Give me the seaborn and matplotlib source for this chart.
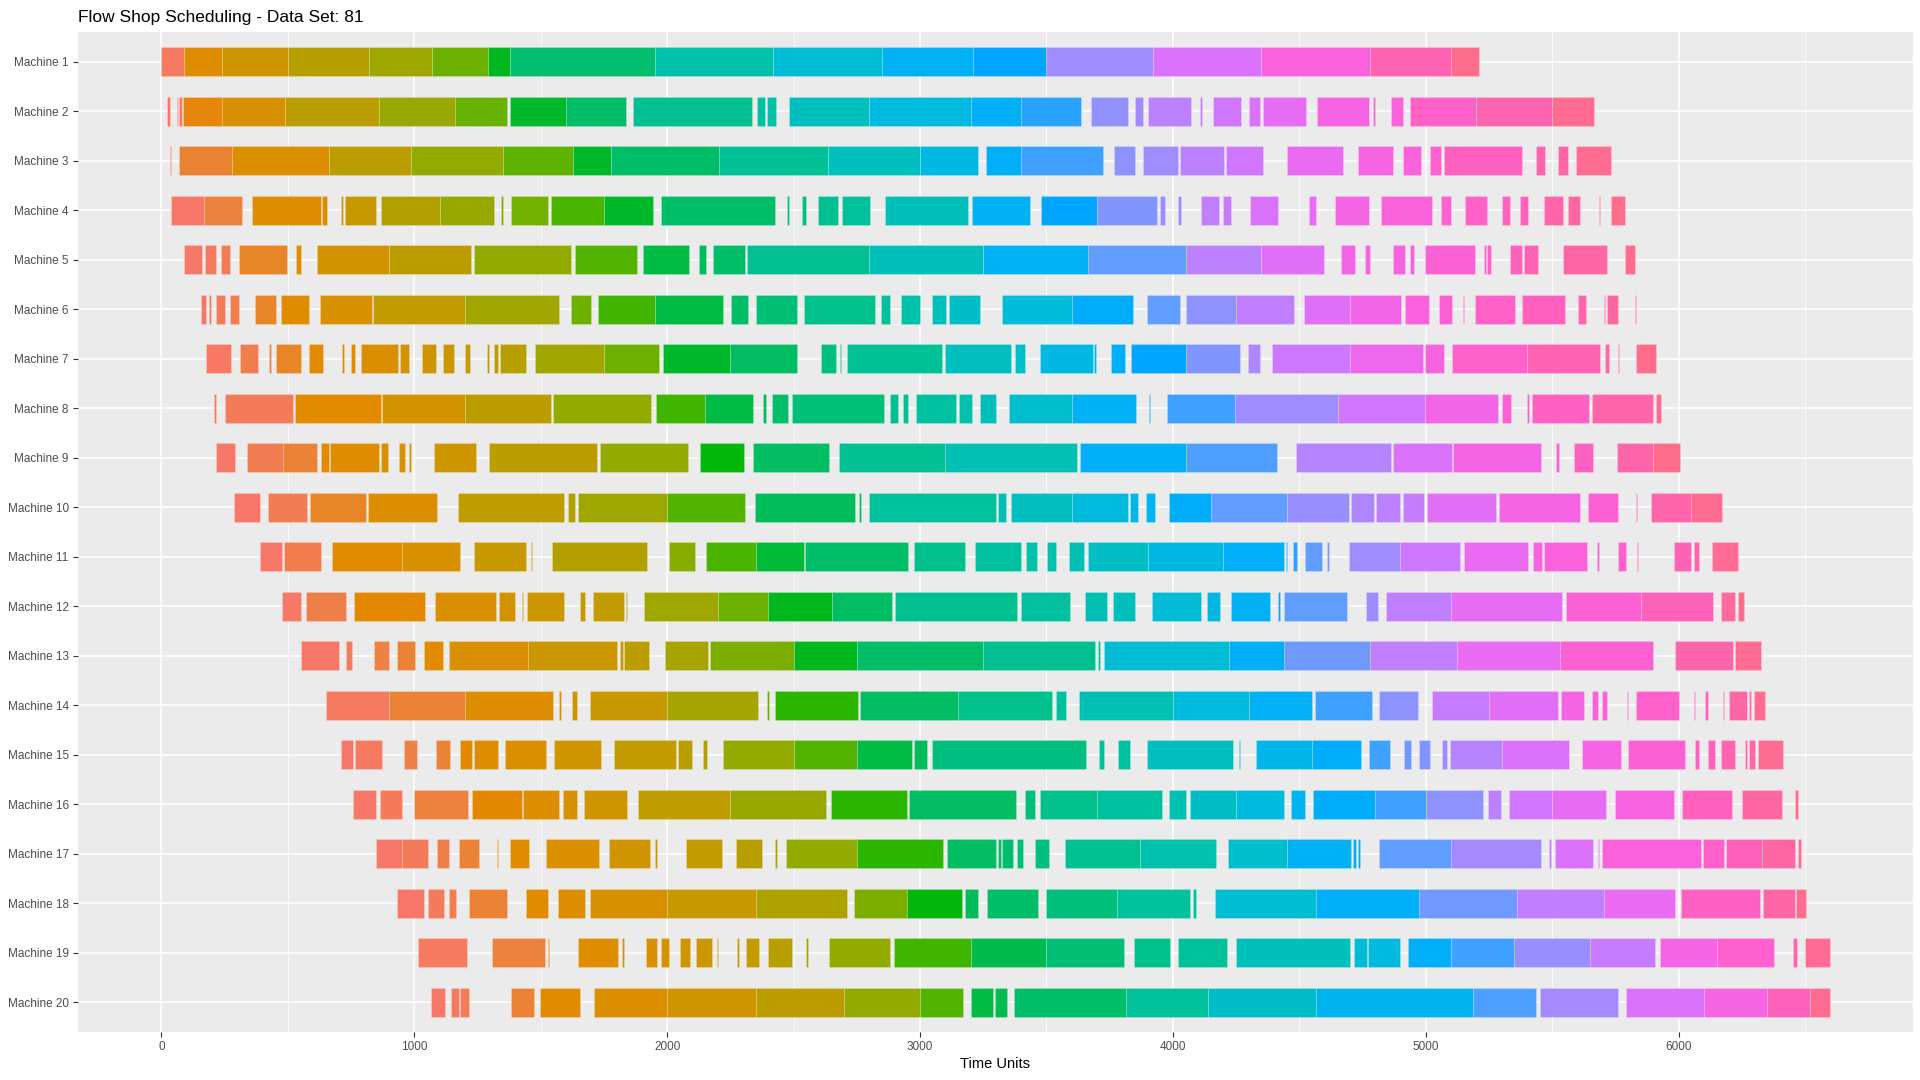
import numpy as np
import pandas as pd
import matplotlib
matplotlib.use("Agg")
import matplotlib.pyplot as plt
from matplotlib.ticker import MultipleLocator
import seaborn as sns

# ---- data: per machine, blocks of (start, end, job hue in degrees) ----
m01 = [(0, 90, 20), (90, 240, 45), (240, 500, 60), (500, 820, 75), (820, 1070, 90), (1070, 1290, 110),
       (1290, 1380, 130), (1380, 1950, 152), (1950, 2420, 180), (2420, 2850, 205), (2850, 3210, 228),
       (3210, 3500, 245), (3500, 3920, 270), (3920, 4350, 295), (4350, 4780, 320), (4780, 5100, 343),
       (5100, 5212, 362)]
m02 = [(24, 32, 17), (62, 66, 18), (71, 83, 20), (87, 240, 38), (240, 490, 52), (490, 860, 72),
       (860, 1160, 92), (1160, 1367, 112), (1380, 1600, 132), (1600, 1839, 150), (1864, 2336, 168),
       (2357, 2385, 175), (2396, 2432, 177), (2482, 2800, 192), (2800, 3200, 212), (3200, 3400, 232),
       (3400, 3635, 248), (3678, 3824, 266), (3851, 3881, 272), (3902, 4072, 280), (4109, 4114, 285),
       (4160, 4269, 290), (4301, 4344, 295), (4357, 4526, 302), (4569, 4775, 315), (4793, 4798, 318),
       (4861, 4910, 322), (4938, 5200, 332), (5200, 5500, 345), (5500, 5667, 360)]
m03 = [(32, 39, 17), (69, 279, 33), (279, 664, 48), (664, 986, 72), (986, 1350, 95), (1350, 1629, 115),
       (1629, 1779, 132), (1779, 2207, 150), (2207, 2636, 170), (2636, 3000, 192), (3000, 3230, 215),
       (3262, 3400, 232), (3400, 3725, 250), (3766, 3851, 265), (3881, 4021, 270), (4029, 4203, 280),
       (4209, 4357, 290), (4451, 4674, 305), (4734, 4872, 315), (4910, 4981, 320), (5017, 5060, 325),
       (5073, 5382, 335), (5435, 5470, 345), (5523, 5564, 350), (5596, 5731, 360)]
m04 = [(39, 170, 17), (170, 317, 30), (358, 632, 45), (636, 654, 48), (709, 720, 55), (726, 849, 65),
       (868, 1100, 78), (1100, 1316, 92), (1341, 1350, 100), (1382, 1530, 108), (1539, 1750, 120),
       (1750, 1946, 132), (1974, 2428, 150), (2473, 2482, 160), (2533, 2550, 163), (2597, 2674, 168),
       (2692, 2803, 172), (2861, 3191, 190), (3204, 3436, 228), (3479, 3700, 245), (3700, 3939, 262),
       (3950, 3967, 268), (4021, 4031, 272), (4113, 4181, 282), (4200, 4228, 286), (4306, 4417, 295),
       (4537, 4567, 305), (4640, 4775, 315), (4822, 5026, 322), (5060, 5101, 326), (5154, 5244, 332),
       (5302, 5332, 337), (5372, 5405, 340), (5469, 5542, 348), (5564, 5611, 352), (5686, 5690, 356),
       (5731, 5789, 362)]
m05 = [(90, 159, 17), (171, 216, 20), (234, 270, 23), (306, 497, 35), (531, 551, 45), (615, 900, 55),
       (900, 1226, 72), (1237, 1618, 95), (1635, 1882, 118), (1905, 2085, 138), (2126, 2152, 145),
       (2180, 2308, 150), (2314, 2800, 168), (2800, 3250, 190), (3250, 3665, 228), (3665, 4053, 255),
       (4053, 4350, 280), (4350, 4597, 298), (4664, 4719, 312), (4760, 4781, 315), (4869, 4916, 318),
       (4938, 4955, 320), (4996, 5193, 325), (5232, 5240, 330), (5244, 5257, 332), (5332, 5382, 338),
       (5388, 5444, 342), (5544, 5718, 350), (5789, 5829, 362)]
m06 = [(156, 178, 17), (189, 197, 18), (214, 253, 22), (270, 306, 25), (371, 452, 35), (471, 583, 45),
       (628, 831, 52), (838, 1200, 68), (1200, 1573, 88), (1618, 1697, 110), (1727, 1950, 122),
       (1950, 2220, 138), (2252, 2319, 150), (2353, 2512, 155), (2540, 2822, 165), (2846, 2882, 172),
       (2925, 3000, 180), (3049, 3103, 190), (3114, 3236, 195), (3326, 3600, 208), (3600, 3843, 235),
       (3898, 4029, 255), (4053, 4250, 265), (4250, 4480, 282), (4520, 4700, 298), (4700, 4904, 312),
       (4916, 5013, 320), (5054, 5105, 325), (5146, 5152, 328), (5193, 5354, 332), (5380, 5551, 338),
       (5603, 5635, 345), (5704, 5710, 350), (5716, 5761, 352), (5828, 5832, 360)]
m07 = [(178, 274, 18), (309, 381, 26), (424, 435, 30), (454, 553, 35), (583, 641, 42), (714, 722, 46),
       (750, 765, 47), (789, 934, 50), (945, 981, 55), (1029, 1084, 60), (1114, 1157, 62), (1200, 1221, 65),
       (1286, 1294, 68), (1314, 1331, 70), (1339, 1440, 75), (1479, 1750, 88), (1750, 1967, 110),
       (1985, 2250, 132), (2250, 2514, 148), (2610, 2666, 160), (2685, 2689, 162), (2711, 3086, 170),
       (3097, 3361, 192), (3374, 3416, 196), (3474, 3684, 215), (3689, 3695, 220), (3755, 3811, 232),
       (3833, 4050, 245), (4050, 4267, 262), (4297, 4346, 275), (4393, 4700, 288), (4700, 4989, 308),
       (4996, 5071, 318), (5105, 5400, 330), (5400, 5688, 343), (5709, 5724, 350), (5760, 5763, 355),
       (5832, 5911, 362)]
m08 = [(208, 214, 17), (251, 519, 22), (529, 868, 42), (872, 1200, 55), (1200, 1539, 72), (1549, 1937, 95),
       (1954, 2150, 122), (2150, 2340, 138), (2379, 2392, 145), (2413, 2477, 150), (2494, 2857, 157),
       (2882, 2914, 168), (2934, 2953, 170), (2983, 3144, 175), (3155, 3204, 180), (3236, 3302, 188),
       (3352, 3600, 200), (3600, 3854, 228), (3905, 3909, 240), (3977, 4244, 250), (4244, 4652, 270),
       (4652, 4996, 290), (4996, 5284, 312), (5301, 5337, 325), (5399, 5407, 330), (5422, 5645, 335),
       (5658, 5900, 348), (5911, 5930, 360)]
m09 = [(214, 291, 17), (339, 480, 25), (480, 615, 32), (632, 664, 40), (666, 859, 45), (868, 898, 50),
       (939, 964, 52), (981, 988, 55), (1078, 1245, 60), (1294, 1723, 72), (1736, 2083, 95),
       (2130, 2304, 128), (2338, 2642, 148), (2681, 3100, 168), (3100, 3620, 185), (3633, 4053, 232),
       (4053, 4411, 252), (4488, 4863, 278), (4872, 5103, 295), (5109, 5457, 315), (5515, 5527, 325),
       (5585, 5660, 335), (5757, 5900, 348), (5900, 6005, 362)]
m10 = [(289, 388, 17), (422, 574, 24), (589, 810, 35), (816, 1089, 48), (1174, 1592, 70), (1609, 1637, 78),
       (1646, 2000, 90), (2000, 2308, 118), (2347, 2743, 145), (2760, 2767, 150), (2797, 3300, 172),
       (3307, 3341, 185), (3361, 3600, 192), (3600, 3821, 210), (3832, 3864, 220), (3892, 3931, 225),
       (3984, 4150, 235), (4150, 4450, 255), (4450, 4696, 268), (4704, 4797, 275), (4803, 4899, 280),
       (4910, 4994, 285), (5004, 5279, 300), (5291, 5611, 315), (5641, 5759, 325), (5832, 5836, 335),
       (5889, 6050, 348), (6050, 6170, 360)]
m11 = [(388, 476, 17), (486, 630, 26), (675, 950, 42), (950, 1179, 52), (1236, 1442, 65), (1461, 1466, 70),
       (1543, 1922, 78), (2008, 2109, 100), (2152, 2350, 120), (2350, 2542, 135), (2544, 2953, 150),
       (2977, 3176, 165), (3217, 3399, 175), (3419, 3464, 180), (3504, 3536, 182), (3588, 3650, 185),
       (3665, 3900, 195), (3900, 4200, 215), (4200, 4441, 232), (4446, 4451, 240), (4475, 4490, 248),
       (4522, 4591, 255), (4610, 4616, 260), (4698, 4900, 270), (4900, 5135, 288), (5150, 5405, 305),
       (5426, 5460, 315), (5469, 5637, 320), (5677, 5684, 325), (5761, 5791, 330), (5837, 5839, 335),
       (5981, 6050, 342), (6061, 6082, 348), (6131, 6234, 358)]
m12 = [(478, 553, 17), (570, 729, 27), (761, 1041, 40), (1080, 1322, 50), (1335, 1399, 55), (1425, 1429, 58),
       (1444, 1594, 62), (1654, 1674, 65), (1708, 1828, 68), (1837, 1841, 72), (1909, 2200, 90),
       (2200, 2400, 110), (2400, 2650, 130), (2650, 2889, 148), (2902, 3382, 168), (3399, 3592, 175),
       (3652, 3738, 185), (3764, 3850, 190), (3918, 4111, 205), (4134, 4188, 215), (4229, 4383, 228),
       (4415, 4424, 240), (4441, 4687, 255), (4764, 4811, 270), (4841, 5100, 282), (5100, 5540, 302),
       (5555, 5850, 325), (5850, 6135, 340), (6166, 6221, 355), (6234, 6258, 362)]
m13 = [(553, 701, 17), (729, 754, 22), (842, 900, 28), (930, 1001, 32), (1037, 1114, 42), (1136, 1450, 50),
       (1450, 1802, 62), (1813, 1824, 68), (1828, 1929, 72), (1993, 2160, 85), (2171, 2500, 105),
       (2500, 2750, 130), (2750, 3250, 150), (3250, 3692, 168), (3703, 3711, 180), (3726, 4222, 205),
       (4222, 4438, 232), (4438, 4781, 258), (4781, 5125, 282), (5125, 5532, 305), (5532, 5900, 325),
       (5986, 6215, 347), (6221, 6324, 360)]
m14 = [(649, 900, 20), (900, 1200, 32), (1200, 1549, 45), (1571, 1579, 50), (1624, 1644, 55),
       (1693, 2000, 65), (2000, 2359, 85), (2394, 2402, 110), (2428, 2754, 125), (2764, 3150, 148),
       (3150, 3523, 165), (3538, 3577, 175), (3630, 4000, 185), (4000, 4300, 210), (4300, 4551, 230),
       (4561, 4786, 250), (4816, 4970, 265), (5026, 5250, 285), (5250, 5521, 300), (5536, 5624, 315),
       (5656, 5680, 320), (5695, 5718, 322), (5795, 5799, 326), (5832, 6000, 330), (6061, 6065, 338),
       (6104, 6117, 340), (6175, 6179, 345), (6198, 6270, 350), (6279, 6286, 355), (6300, 6341, 360)]
m15 = [(709, 756, 17), (767, 872, 20), (960, 1011, 28), (1086, 1142, 32), (1179, 1230, 40), (1237, 1331, 45),
       (1359, 1522, 50), (1552, 1740, 58), (1789, 2036, 68), (2044, 2098, 75), (2143, 2156, 80),
       (2222, 2500, 95), (2500, 2750, 118), (2750, 2970, 138), (2977, 3028, 145), (3049, 3658, 160),
       (3708, 3729, 170), (3783, 3832, 175), (3899, 4239, 192), (4261, 4265, 205), (4327, 4550, 220),
       (4550, 4745, 235), (4775, 4859, 250), (4912, 4940, 258), (4972, 5015, 262), (5064, 5084, 270),
       (5095, 5300, 278), (5300, 5566, 295), (5617, 5771, 315), (5799, 6024, 325), (6063, 6080, 335),
       (6116, 6142, 340), (6168, 6224, 345), (6262, 6271, 350), (6279, 6303, 352), (6313, 6411, 360)]
m16 = [(756, 850, 17), (863, 953, 22), (999, 1213, 30), (1230, 1427, 40), (1429, 1573, 47), (1590, 1642, 52),
       (1672, 1841, 58), (1884, 2250, 70), (2250, 2629, 92), (2649, 2949, 125), (2957, 3380, 148),
       (3414, 3453, 158), (3476, 3700, 165), (3700, 3956, 175), (3984, 4053, 185), (4068, 4250, 195),
       (4250, 4441, 210), (4466, 4524, 225), (4554, 4800, 235), (4800, 5000, 250), (5000, 5227, 265),
       (5246, 5298, 280), (5328, 5500, 290), (5500, 5711, 302), (5748, 5981, 318), (6015, 6212, 338),
       (6249, 6410, 352), (6461, 6474, 362)]
m17 = [(849, 950, 17), (950, 1054, 22), (1091, 1136, 27), (1177, 1254, 32), (1327, 1331, 38), (1380, 1455, 42),
       (1519, 1732, 50), (1770, 1931, 58), (1950, 1961, 62), (2026, 2029, 64), (2074, 2218, 68),
       (2274, 2376, 75), (2426, 2436, 82), (2469, 2750, 95), (2750, 3090, 125), (3105, 3302, 148),
       (3307, 3320, 150), (3326, 3369, 152), (3382, 3406, 155), (3453, 3511, 160), (3575, 3870, 168),
       (3870, 4171, 182), (4218, 4450, 200), (4450, 4704, 228), (4713, 4726, 235), (4732, 4739, 238),
       (4816, 5100, 255), (5100, 5457, 272), (5487, 5494, 285), (5511, 5661, 295), (5680, 5687, 305),
       (5695, 6088, 320), (6097, 6178, 330), (6187, 6330, 340), (6330, 6461, 352), (6472, 6485, 360)]
m18 = [(932, 1039, 17), (1054, 1117, 22), (1136, 1164, 25), (1215, 1365, 32), (1442, 1530, 42),
       (1567, 1674, 47), (1693, 2000, 52), (2000, 2350, 65), (2350, 2713, 82), (2739, 2950, 105),
       (2950, 3165, 128), (3176, 3229, 145), (3264, 3465, 150), (3497, 3780, 158), (3780, 4067, 172),
       (4078, 4093, 178), (4168, 4567, 205), (4567, 4974, 232), (4974, 5360, 258), (5360, 5703, 282),
       (5703, 5987, 305), (6011, 6321, 335), (6332, 6459, 350), (6466, 6504, 360)]
m19 = [(1014, 1207, 20), (1307, 1515, 30), (1530, 1534, 38), (1648, 1804, 45), (1820, 1828, 50),
       (1918, 1961, 52), (1976, 2006, 55), (2049, 2092, 58), (2115, 2179, 62), (2196, 2201, 65),
       (2276, 2284, 66), (2310, 2364, 68), (2398, 2494, 75), (2550, 2557, 82), (2642, 2880, 95),
       (2897, 3200, 122), (3200, 3500, 140), (3500, 3808, 155), (3846, 3988, 165), (4020, 4213, 172),
       (4251, 4702, 190), (4717, 4766, 205), (4773, 4899, 212), (4929, 5100, 232), (5100, 5350, 250),
       (5350, 5650, 268), (5650, 5908, 285), (5925, 6150, 315), (6150, 6379, 328), (6454, 6467, 345),
       (6498, 6597, 358)]
m20 = [(1065, 1121, 17), (1144, 1177, 20), (1181, 1217, 22), (1384, 1472, 32), (1498, 1657, 42),
       (1712, 2000, 48), (2000, 2350, 58), (2350, 2700, 72), (2700, 3000, 95), (3000, 3169, 118),
       (3202, 3287, 138), (3298, 3343, 142), (3373, 3816, 150), (3816, 4139, 172), (4139, 4567, 198),
       (4567, 5188, 225), (5188, 5436, 252), (5451, 5759, 272), (5792, 6100, 295), (6100, 6350, 315),
       (6350, 6520, 340), (6520, 6597, 360)]

machines = [f"Machine {i}" for i in range(1, 21)]
schedule = [m01, m02, m03, m04, m05, m06, m07, m08, m09, m10,
            m11, m12, m13, m14, m15, m16, m17, m18, m19, m20]
title = "Flow Shop Scheduling - Data Set: 81"
x_label = "Time Units"


def hcl_hex(h, c=100.0, l=65.0):
    """ggplot2-style hue palette colour (polar LUV -> sRGB)."""
    hr = np.deg2rad(h)
    U, V = c * np.cos(hr), c * np.sin(hr)
    Y = 100.0 * ((l + 16.0) / 116.0) ** 3
    un, vn = 0.1978398, 0.4683363
    u = U / (13 * l) + un
    v = V / (13 * l) + vn
    X = 9.0 * Y * u / (4.0 * v)
    Z = -X / 3.0 - 5.0 * Y + 3.0 * Y / v
    X, Y, Z = X / 100, Y / 100, Z / 100
    r = 3.240479 * X - 1.537150 * Y - 0.498535 * Z
    g = -0.969256 * X + 1.875992 * Y + 0.041556 * Z
    b = 0.055648 * X - 0.204043 * Y + 1.057311 * Z

    def gam(x):
        x = 1.055 * x ** (1 / 2.4) - 0.055 if x > 0.0031308 else 12.92 * x
        return min(max(x, 0.0), 1.0)
    return (gam(r), gam(g), gam(b))


rows = []
for mname, blocks in zip(machines, schedule):
    for s, e, h in blocks:
        rows.append(dict(machine=mname, start=s, end=e, hue=h))
df = pd.DataFrame(rows)
df["duration"] = df["end"] - df["start"]
df["ypos"] = df["machine"].map({m: i for i, m in enumerate(machines)})
df["color"] = [hcl_hex(h) for h in df["hue"]]

# ---- style (ggplot2 grey theme look) ----
sns.set_theme(style="darkgrid", rc={
    "axes.facecolor": "#EBEBEB",
    "grid.color": "white",
    "axes.edgecolor": "#EBEBEB",
})
plt.rcParams["font.family"] = ["Liberation Sans", "DejaVu Sans"]

fig = plt.figure(figsize=(19.2, 10.8), dpi=100)
ax = fig.add_axes([78 / 1920, 1 - 1032 / 1080, (1913 - 78) / 1920, (1032 - 32) / 1080])

ax.barh(df["ypos"], df["duration"], left=df["start"], height=0.58,
        color=df["color"], edgecolor=(1, 1, 1, 0.25), linewidth=0.5, zorder=3)

lo, hi = df["start"].min(), df["end"].max()
pad = 0.05 * (hi - lo)
ax.set_xlim(lo - pad, hi + pad)
ax.set_ylim(len(machines) - 0.4, -0.6)

ax.set_yticks(range(len(machines)))
ax.set_yticklabels(machines)
ax.xaxis.set_major_locator(MultipleLocator(1000))
ax.xaxis.set_minor_locator(MultipleLocator(500))
ax.grid(which="major", color="white", linewidth=1.1, zorder=0)
ax.grid(which="minor", axis="x", color="white", linewidth=0.55, zorder=0)
ax.set_axisbelow(True)
for sp in ax.spines.values():
    sp.set_visible(False)

ax.tick_params(axis="both", which="major", length=3.7, width=0.8, color="#333333",
               labelsize=8.5, labelcolor="#4D4D4D", pad=3, left=True, bottom=True)
ax.tick_params(axis="x", which="minor", length=0)

ax.set_xlabel(x_label, fontsize=10.5, color="black", labelpad=3)
ax.set_ylabel("")
ax.set_title(title, loc="left", fontsize=12.5, color="black", pad=7)

fig.savefig("out.png", dpi=100)
